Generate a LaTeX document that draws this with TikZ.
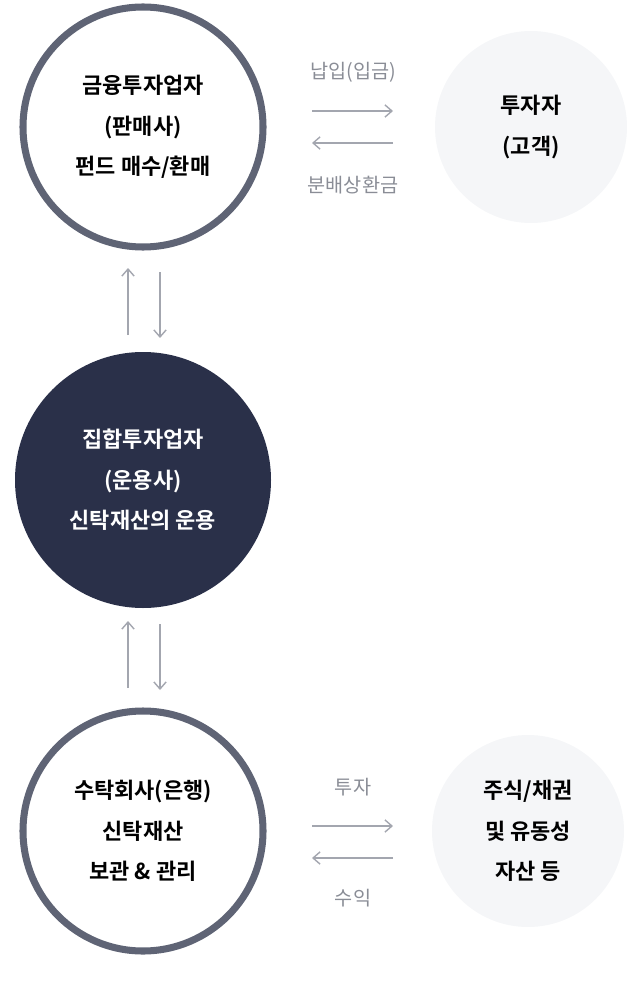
\documentclass[tikz,border=0pt]{standalone}
\usepackage{fontspec}
\newfontfamily\kr{Noto Sans CJK KR}
\newfontfamily\krb{Noto Sans CJK KR Bold}
\usetikzlibrary{arrows.meta}
\definecolor{ring}{HTML}{5F6475}
\definecolor{navy}{HTML}{2A3049}
\definecolor{pale}{HTML}{F5F6F8}
\definecolor{arr}{HTML}{A3A6AF}
\definecolor{lbl}{HTML}{8A8D96}
\begin{document}
\begin{tikzpicture}[x=0.02cm,y=-0.02cm,
 main/.style={circle,draw=ring,line width=4pt,fill=white,minimum size=240*0.02cm,inner sep=0pt,align=center,font=\krb\fontsize{12.5}{23}\selectfont},
 dark/.style={circle,fill=navy,minimum size=256*0.02cm,inner sep=0pt,align=center,text=white,font=\krb\fontsize{12.5}{23}\selectfont},
 soft/.style={circle,fill=pale,minimum size=192*0.02cm,inner sep=0pt,align=center,font=\krb\fontsize{12.5}{23}\selectfont},
 lab/.style={text=lbl,font=\kr\fontsize{11.2}{13}\selectfont},
 ar/.style={draw=arr,line width=0.8pt,-{Straight Barb[length=4pt,width=7pt]}}]
\useasboundingbox (0,0) rectangle (628,1000);
\node[main] (a) at (143,127) {금융투자업자\\(판매사)\\펀드 매수/환매};
\node[soft] (b) at (531,127) {투자자\\(고객)};
\node[dark] (c) at (143,480) {집합투자업자\\(운용사)\\신탁재산의 운용};
\node[main] (d) at (143,831) {수탁회사(은행)\\신탁재산\\보관 \& 관리};
\node[soft] (e) at (528,831) {주식/채권\\및 유동성\\자산 등};
\node[lab] (l1) at (353,72) {납입(입금)};
\node[lab] (l2) at (353,185) {분배상환금};
\node[lab] (l3) at (353,787) {투자};
\node[lab] (l4) at (353,898) {수익};
\coordinate (p1) at (312,111); \coordinate (p2) at (393,111);
\coordinate (p3) at (393,143); \coordinate (p4) at (312,143);
\draw[ar] (p1) -- (p2); \draw[ar] (p3) -- (p4);
\coordinate (q1) at (312,826); \coordinate (q2) at (393,826);
\coordinate (q3) at (393,858); \coordinate (q4) at (312,858);
\draw[ar] (q1) -- (q2); \draw[ar] (q3) -- (q4);
\coordinate (v1) at (128,335); \coordinate (v2) at (128,268);
\coordinate (v3) at (160,272); \coordinate (v4) at (160,338);
\draw[ar] (v1) -- (v2); \draw[ar] (v3) -- (v4);
\coordinate (w1) at (128,688); \coordinate (w2) at (128,621);
\coordinate (w3) at (160,624); \coordinate (w4) at (160,690);
\draw[ar] (w1) -- (w2); \draw[ar] (w3) -- (w4);
\end{tikzpicture}
\end{document}
